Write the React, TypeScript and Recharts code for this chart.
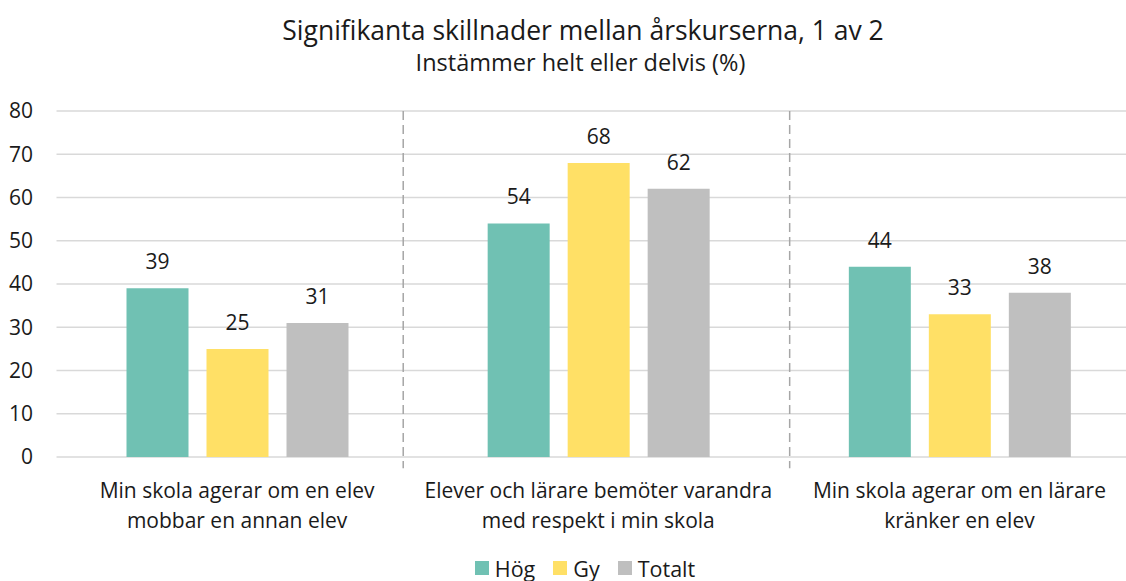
import React from "react";
import {
  BarChart,
  Bar,
  XAxis,
  YAxis,
  CartesianGrid,
  LabelList,
  ReferenceLine,
} from "recharts";

const categories = [
  "Min skola agerar om en elev\nmobbar en annan elev",
  "Elever och lärare bemöter varandra\nmed respekt i min skola",
  "Min skola agerar om en lärare\nkränker en elev",
];
const positions = [0.5, 1.5, 2.5];
const hog = [39, 54, 44];
const gy = [25, 68, 33];
const totalt = [31, 62, 38];
const yTicks = [0, 10, 20, 30, 40, 50, 60, 70, 80];
const dividers = [0.96, 2.03];

const series = [
  { key: "hog", name: "Hög", color: "#70c1b3" },
  { key: "gy", name: "Gy", color: "#ffe066" },
  { key: "totalt", name: "Totalt", color: "#bfbfbf" },
];

const data = categories.map((c, i) => ({
  pos: positions[i],
  category: c,
  hog: hog[i],
  gy: gy[i],
  totalt: totalt[i],
}));

const FONT = "'Open Sans', sans-serif";
const TEXT = "#1a1a1a";

function CategoryTick(props: any) {
  const { x, y, payload } = props;
  const idx = positions.indexOf(payload.value);
  const lines = idx >= 0 ? categories[idx].split("\n") : [];
  return (
    <g transform={`translate(${x},${y})`}>
      {lines.map((l: string, i: number) => (
        <text
          key={i}
          x={0}
          y={i * 29.5}
          dy={33}
          textAnchor="middle"
          fill={TEXT}
          fontSize={21}
          fontFamily={FONT}
        >
          {l}
        </text>
      ))}
    </g>
  );
}

function ChartLegend() {
  return (
    <div
      style={{
        position: "absolute",
        top: 554,
        left: 0,
        width: 1170,
        height: 28,
        display: "flex",
        alignItems: "center",
        justifyContent: "center",
        gap: 18,
        fontFamily: FONT,
        fontSize: 21.5,
        color: TEXT,
      }}
    >
      {series.map((s) => (
        <div key={s.key} style={{ display: "flex", alignItems: "center", gap: 6 }}>
          <div style={{ width: 14, height: 14, background: s.color }} />
          <span>{s.name}</span>
        </div>
      ))}
    </div>
  );
}

export default function App() {
  return (
    <div
      style={{
        position: "fixed",
        left: 0,
        top: 0,
        width: 1126,
        height: 581,
        overflow: "hidden",
        background: "#fff",
        fontFamily: FONT,
      }}
    >
      <div
        style={{
          position: "absolute",
          top: 12,
          left: 0,
          width: 1166,
          textAlign: "center",
          fontSize: 26.5,
          color: TEXT,
          lineHeight: "36px",
        }}
      >
        Signifikanta skillnader mellan årskurserna, 1 av 2
      </div>
      <div
        style={{
          position: "absolute",
          top: 46,
          left: 0,
          width: 1161,
          textAlign: "center",
          fontSize: 23.5,
          color: TEXT,
          lineHeight: "32px",
        }}
      >
        Instämmer helt eller delvis (%)
      </div>
      <BarChart
        width={1140}
        height={581}
        data={data}
        margin={{ top: 111, right: 0, bottom: 94, left: 0 }}
        barSize={62}
        barGap={18}
        style={{ position: "absolute", left: 0, top: 0 }}
      >
        <CartesianGrid vertical={false} stroke="#d9d9d9" strokeWidth={1.5} />
        <XAxis
          dataKey="pos"
          type="number"
          domain={[0, 3]}
          allowDataOverflow
          ticks={positions}
          height={30}
          axisLine={false}
          tickLine={false}
          interval={0}
          tick={<CategoryTick />}
        />
        <YAxis
          width={56.5}
          domain={[0, 80]}
          ticks={yTicks}
          axisLine={false}
          tickLine={false}
          tickMargin={17.5}
          tick={{ fill: TEXT, fontSize: 21, fontFamily: FONT }}
        />
        {dividers.map((d) => (
          <ReferenceLine
            key={d}
            segment={[
              { x: d, y: 80 },
              { x: d, y: -2.6 },
            ]}
            ifOverflow="visible"
            stroke="#a6a6a6"
            strokeWidth={1.5}
            strokeDasharray="9 5"
          />
        ))}
        {series.map((s) => (
          <Bar key={s.key} dataKey={s.key} name={s.name} fill={s.color} isAnimationActive={false}>
            <LabelList
              dataKey={s.key}
              position="top"
              offset={19}
              fill={TEXT}
              fontSize={21}
              fontFamily={FONT}
            />
          </Bar>
        ))}
      </BarChart>
      <ChartLegend />
    </div>
  );
}
